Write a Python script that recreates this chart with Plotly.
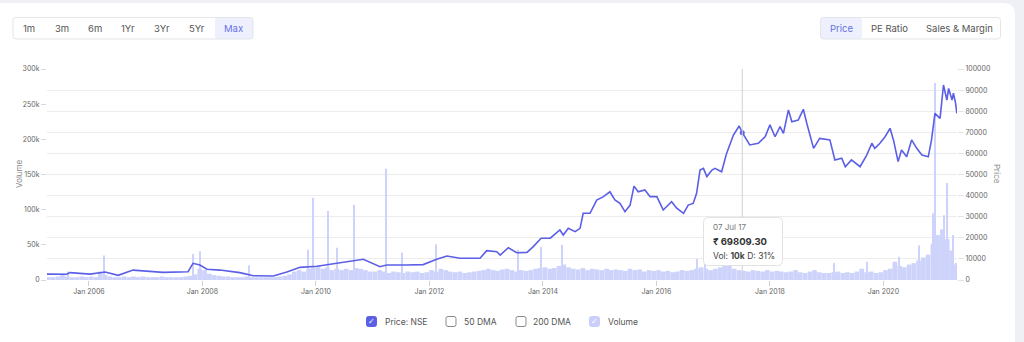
import plotly.graph_objects as go
import pandas as pd

# ---------------- data ----------------
price_dates = [
    "2005-04-06", "2005-08-10", "2005-09-01", "2006-01-08", "2006-04-15", "2006-07-08", "2006-10-12",
    "2007-01-30", "2007-04-23", "2007-10-01", "2007-11-02", "2007-12-16", "2008-01-30", "2008-04-23",
    "2008-08-29", "2008-11-24", "2009-04-02", "2009-06-28", "2009-09-20", "2010-01-08", "2010-04-02",
    "2010-08-29", "2010-11-02", "2011-02-17", "2011-04-02", "2011-08-08", "2011-11-22", "2012-02-17",
    "2012-04-23", "2012-07-16", "2012-11-22", "2013-01-04", "2013-03-10", "2013-04-01", "2013-05-23",
    "2013-07-16", "2013-09-20", "2013-10-31", "2013-12-20", "2014-02-17", "2014-04-20", "2014-05-12",
    "2014-06-13", "2014-07-27", "2014-08-28", "2014-09-17", "2014-10-31", "2014-12-13", "2015-01-26",
    "2015-03-08", "2015-04-09", "2015-05-12", "2015-06-13", "2015-07-16", "2015-08-10", "2015-09-06",
    "2015-10-19", "2015-11-22", "2016-01-04", "2016-02-14", "2016-04-08", "2016-05-11", "2016-06-24",
    "2016-07-24", "2016-08-25", "2016-09-16", "2016-10-08", "2016-10-30", "2016-11-21", "2016-12-24",
    "2017-01-12", "2017-02-24", "2017-03-28", "2017-05-11", "2017-06-17", "2017-07-07", "2017-08-24",
    "2017-10-18", "2017-12-01", "2018-01-01", "2018-02-03", "2018-03-07", "2018-03-29", "2018-04-30",
    "2018-05-22", "2018-07-02", "2018-08-04", "2018-08-26", "2018-10-09", "2018-11-17", "2019-01-22",
    "2019-02-23", "2019-04-08", "2019-05-01", "2019-06-10", "2019-08-04", "2019-09-16", "2019-10-19",
    "2019-11-07", "2019-12-10", "2020-01-12", "2020-02-13", "2020-03-06", "2020-04-05", "2020-04-27",
    "2020-05-30", "2020-07-01", "2020-08-03", "2020-09-05", "2020-10-16", "2020-11-06", "2020-11-28",
    "2020-12-31", "2021-01-22", "2021-02-13", "2021-02-24", "2021-03-18", "2021-03-27", "2021-04-10",
    "2021-04-18",
]
price_values = [
    2800, 2700, 3500, 2800, 3800, 2200, 4700,
    4100, 3600, 3900, 7900, 7100, 5100, 4700,
    3500, 2000, 1900, 3800, 6000, 6500, 7400,
    9100, 9800, 6300, 7100, 7100, 7300, 9800,
    11400, 10300, 10300, 13900, 13400, 11800, 15300,
    12900, 13100, 15800, 19800, 19800, 23700, 21300,
    24500, 22900, 24500, 31600, 31600, 37900, 39500,
    41800, 37900, 36300, 32400, 35500, 44500, 41800,
    42700, 39500, 39500, 33200, 37100, 34000, 31600,
    35500, 36300, 41100, 52100, 52900, 49000, 52100,
    52900, 51300, 60000, 68700, 73000, 69809.30, 64000,
    64800, 67900, 73500, 67900, 72700, 69500, 80600,
    75000, 75800, 80900, 74300, 62400, 67100, 66400,
    56900, 57700, 53700, 56900, 53700, 59200, 64800,
    62400, 64800, 67900, 71900, 66400, 56100, 61600,
    58400, 66400, 62400, 59200, 58400, 66400, 79000,
    76600, 92400, 85300, 90800, 85300, 88500, 83700,
    79000,
]

# monthly volume (thousands), Apr 2005 .. Apr 2021
vol_first_month = "2005-04-01"
vol_monthly_k = [
    4, 4, 5, 9, 5, 4, 4, 5, 4,
    5, 4, 12, 7, 5, 4, 4, 5, 4, 5, 4, 5,
    4, 4, 4, 5, 4, 4, 4, 4, 5, 6, 8, 16,
    14, 9, 7, 6, 5, 5, 4, 4, 4, 5, 4, 4,
    4, 4, 4, 4, 5, 6, 8, 12, 14, 12, 16, 18,
    20, 16, 18, 14, 16, 14, 16, 14, 17, 16, 14, 12,
    12, 14, 12, 10, 12, 11, 10, 12, 11, 12, 10, 11,
    14, 12, 16, 14, 12, 11, 12, 10, 11, 12, 13, 14,
    16, 14, 13, 15, 16, 14, 12, 14, 13, 14, 16, 17,
    18, 16, 17, 20, 22, 18, 16, 15, 17, 14, 16, 15,
    14, 16, 14, 15, 14, 13, 16, 14, 15, 12, 14, 13,
    14, 12, 13, 11, 12, 14, 13, 14, 16, 18, 16, 14,
    16, 18, 20, 24, 16, 14, 13, 12, 14, 13, 12, 14,
    12, 13, 12, 11, 12, 14, 11, 10, 12, 14, 11, 10,
    10, 11, 12, 10, 11, 10, 12, 16, 11, 12, 10, 11,
    14, 16, 26, 20, 18, 22, 24, 28, 32, 36, 50, 64,
    72, 58, 42, 22,
]
spike_dates = [
    "2005-08-20", "2006-04-10", "2007-11-02", "2007-12-16", "2008-10-30", "2009-11-10",
    "2009-12-16", "2010-03-18", "2010-05-15", "2010-09-06", "2011-03-28", "2011-07-12",
    "2012-02-10", "2013-07-22", "2013-12-20", "2014-05-01", "2016-09-20", "2016-11-10",
    "2017-03-15", "2019-02-15", "2019-09-20", "2020-04-08", "2020-08-20", "2020-11-08",
    "2020-11-18", "2020-11-28", "2021-01-26", "2021-02-17", "2021-03-22", "2021-04-12",
]
spike_values_k = [
    12, 35, 37, 41, 21, 43,
    117, 98, 46, 107, 158, 39,
    51, 43, 47, 50, 30, 28,
    25, 24, 26, 33, 49, 52,
    95, 280, 92, 138, 64, 24,
]

x_tick_dates = ["2006-01-01", "2008-01-01", "2010-01-01", "2012-01-01",
                "2014-01-01", "2016-01-01", "2018-01-01", "2020-01-01"]
vol_tickvals = [0, 50000, 100000, 150000, 200000, 250000, 300000]
vol_ticktext = ["0", "50k", "100k", "150k", "200k", "250k", "300k"]
price_tickvals = [0, 10000, 20000, 30000, 40000, 50000, 60000, 70000, 80000, 90000, 100000]

range_buttons = ["1m", "3m", "6m", "1Yr", "3Yr", "5Yr", "Max"]
view_buttons = ["Price", "PE Ratio", "Sales & Margin"]
legend_items = ["Price: NSE", "50 DMA", "200 DMA", "Volume"]
tooltip_date = "2017-07-07"
tooltip_lines = ["07 Jul 17", "₹ 69809.30", "Vol: <b>10k</b> D: 31%"]

# ---------------- styling / layout geometry ----------------
FONT = "Inter, Roboto, sans-serif"
PRICE_COLOR = "#5b5fe6"
VOL_COLOR = "#cdd3fb"
L, R, T, B = 47, 957, 69, 280
W, H = 1024, 342


def px(x):
    return (x - L) / (R - L)


def py(y):
    return (B - y) / (B - T)


def rrect(x0, y0, x1, y1, r):
    pts = [
        ("M", [(x0 + r, y0)]), ("L", [(x1 - r, y0)]), ("Q", [(x1, y0), (x1, y0 + r)]),
        ("L", [(x1, y1 - r)]), ("Q", [(x1, y1), (x1 - r, y1)]), ("L", [(x0 + r, y1)]),
        ("Q", [(x0, y1), (x0, y1 - r)]), ("L", [(x0, y0 + r)]), ("Q", [(x0, y0), (x0 + r, y0)]),
    ]
    s = ""
    for cmd, ps in pts:
        s += cmd + " ".join(f"{px(a):.5f},{py(b):.5f}" for a, b in ps) + " "
    return s + "Z"


vol_month_dates = pd.date_range(vol_first_month, periods=len(vol_monthly_k), freq="MS") + pd.Timedelta(days=14)
DAY = 86400000

fig = go.Figure()
fig.add_trace(go.Bar(
    x=vol_month_dates, y=[v * 1000 for v in vol_monthly_k], width=30 * DAY,
    marker=dict(color=VOL_COLOR, line=dict(width=0)), yaxis="y", hoverinfo="skip",
))
fig.add_trace(go.Bar(
    x=pd.to_datetime(spike_dates), y=[v * 1000 for v in spike_values_k], width=7 * DAY,
    marker=dict(color=VOL_COLOR, line=dict(width=0)), yaxis="y", hoverinfo="skip",
))
fig.add_trace(go.Scatter(
    x=pd.to_datetime(price_dates), y=price_values, mode="lines",
    line=dict(color=PRICE_COLOR, width=1.6), yaxis="y2", hoverinfo="skip",
))
tip_idx = price_dates.index(tooltip_date)
fig.add_trace(go.Scatter(
    x=[pd.to_datetime(tooltip_date)], y=[price_values[tip_idx]], mode="markers",
    marker=dict(color=PRICE_COLOR, size=5), yaxis="y2", hoverinfo="skip",
))

shapes = []
annotations = []

# card background
shapes.append(dict(type="path", xref="paper", yref="paper", path=rrect(-30, 3, 1015, 400, 12),
                   fillcolor="white", line=dict(width=0), layer="below"))

# hover crosshair
shapes.append(dict(type="line", xref="x", yref="paper", x0=tooltip_date, x1=tooltip_date,
                   y0=0, y1=1, line=dict(color="#d0d0d0", width=1), layer="above"))

# range buttons
shapes.append(dict(type="path", xref="paper", yref="paper", path=rrect(215, 17.5, 253, 39, 3),
                   fillcolor="#eef0fd", line=dict(width=0)))
shapes.append(dict(type="path", xref="paper", yref="paper", path=rrect(13, 17.5, 253, 39, 3),
                   fillcolor="rgba(0,0,0,0)", line=dict(color="#e3e5ea", width=1)))
rb_x = [28.5, 61.5, 94.5, 128, 162, 197, 233.5]
for lbl, xc in zip(range_buttons, rb_x):
    annotations.append(dict(xref="paper", yref="paper", x=px(xc), y=py(28.5), text=lbl, showarrow=False,
                            xanchor="center", yanchor="middle",
                            font=dict(family=FONT, size=9.5, color="#6470e8" if lbl == "Max" else "#555")))

# view buttons
shapes.append(dict(type="path", xref="paper", yref="paper", path=rrect(820.5, 17.5, 862, 39, 3),
                   fillcolor="#eef0fd", line=dict(width=0)))
shapes.append(dict(type="path", xref="paper", yref="paper", path=rrect(820.5, 17.5, 1000.5, 39, 3),
                   fillcolor="rgba(0,0,0,0)", line=dict(color="#e3e5ea", width=1)))
vb_x = [841.5, 889.5, 959]
for lbl, xc in zip(view_buttons, vb_x):
    annotations.append(dict(xref="paper", yref="paper", x=px(xc), y=py(28.5), text=lbl, showarrow=False,
                            xanchor="center", yanchor="middle",
                            font=dict(family=FONT, size=9.5, color="#6470e8" if lbl == "Price" else "#555")))

# axis titles
annotations.append(dict(xref="paper", yref="paper", x=px(19), y=py(174), text="Volume", showarrow=False,
                        xanchor="center", yanchor="middle",
                        textangle=-90, font=dict(family=FONT, size=8, color="#888")))
annotations.append(dict(xref="paper", yref="paper", x=px(997), y=py(174), text="Price", showarrow=False,
                        xanchor="center", yanchor="middle",
                        textangle=90, font=dict(family=FONT, size=8, color="#888")))

# tooltip
shapes.append(dict(type="path", xref="paper", yref="paper", path=rrect(703.5, 217.5, 782.5, 265.5, 5),
                   fillcolor="white", line=dict(color="#e2e2e2", width=1), layer="above"))
annotations.append(dict(xref="paper", yref="paper", x=px(711), y=py(227), text=tooltip_lines[0],
                        showarrow=False, xanchor="left", yanchor="middle",
                        font=dict(family=FONT, size=8, color="#777")))
annotations.append(dict(xref="paper", yref="paper", x=px(711), y=py(241), text="<b>" + tooltip_lines[1] + "</b>",
                        showarrow=False, xanchor="left", yanchor="middle",
                        font=dict(family=FONT, size=9.5, color="#333")))
annotations.append(dict(xref="paper", yref="paper", x=px(711), y=py(255.5), text=tooltip_lines[2],
                        showarrow=False, xanchor="left", yanchor="middle",
                        font=dict(family=FONT, size=8.5, color="#444")))

# custom legend
box_x = [366.5, 446, 516, 589.5]
txt_x = [383, 461.5, 531, 605.5]
box_fill = [PRICE_COLOR, "white", "white", "#c9cffa"]
box_line = [PRICE_COLOR, "#8a8a8a", "#8a8a8a", "#c9cffa"]
for i, lbl in enumerate(legend_items):
    shapes.append(dict(type="path", xref="paper", yref="paper",
                       path=rrect(box_x[i], 316.5, box_x[i] + 10, 326.5, 2),
                       fillcolor=box_fill[i], line=dict(color=box_line[i], width=1)))
    if box_fill[i] != "white":
        annotations.append(dict(xref="paper", yref="paper", x=px(box_x[i] + 5), y=py(321.5), text="✓",
                                showarrow=False, xanchor="center", yanchor="middle",
                                font=dict(family="DejaVu Sans", size=8, color="white")))
    annotations.append(dict(xref="paper", yref="paper", x=px(txt_x[i]), y=py(321.5), text=lbl,
                            showarrow=False, xanchor="left", yanchor="middle",
                            font=dict(family=FONT, size=8.5, color="#555")))

fig.update_layout(
    width=W, height=H,
    margin=dict(l=L, r=W - R, t=T, b=H - B, pad=0),
    paper_bgcolor="#eef0f6",
    plot_bgcolor="rgba(0,0,0,0)",
    showlegend=False,
    barmode="overlay",
    font=dict(family=FONT, size=8, color="#666"),
    xaxis=dict(
        type="date", range=["2005-04-06", "2021-04-19"],
        tickvals=x_tick_dates, tickformat="%b %Y",
        ticks="outside", ticklen=5, tickcolor="#d0d0d0",
        showgrid=False, zeroline=False, showline=False,
        tickfont=dict(family=FONT, size=7, color="#666"),
    ),
    yaxis=dict(
        range=[0, 300000], tickvals=vol_tickvals, ticktext=vol_ticktext,
        ticks="outside", ticklen=5, tickcolor="#d8d8d8",
        showgrid=False, zeroline=False, showline=False,
        tickfont=dict(family=FONT, size=7, color="#666"),
    ),
    yaxis2=dict(
        range=[0, 100000], tickvals=price_tickvals, tickformat="d", overlaying="y", side="right",
        ticks="outside", ticklen=6, tickcolor="#e4e4e4",
        showgrid=True, gridcolor="#ececec", gridwidth=1, zeroline=False, showline=False,
        tickfont=dict(family=FONT, size=7, color="#666"),
    ),
    shapes=shapes,
    annotations=annotations,
)

fig.write_html("out.html")
